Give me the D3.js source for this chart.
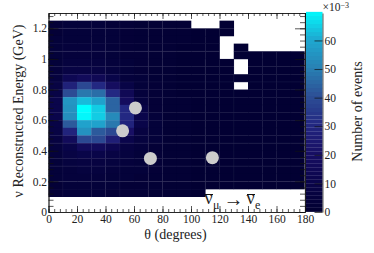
<!DOCTYPE html>
<html>
<head>
<meta charset="utf-8">
<script src="https://cdn.jsdelivr.net/npm/d3@7"></script>
<style>
  html, body { margin: 0; padding: 0; background: #fff; }
  svg { display: block; }
  text { font-family: "Liberation Serif", serif; fill: #222; }
</style>
</head>
<body>
<div id="chart"></div>
<script>
const n = null; // empty bin

// bin lower edges
const thetaBins = [0, 10, 20, 30, 40, 50, 60, 70, 80, 90, 100, 110, 120, 130, 140, 150, 160, 170];
const energyBins = [1.2, 1.15, 1.1, 1.05, 1, 0.95, 0.9, 0.85, 0.8, 0.75, 0.7, 0.65, 0.6, 0.55, 0.5, 0.45, 0.4, 0.35, 0.3, 0.25, 0.2, 0.15, 0.1];

// events per bin, x10^-3, one row per entry of energyBins
const counts = [
  [2, 3, 3, 3, 2, 2, 1, 1, 1, 1, n, n, 0.5, n, n, n, n, n],
  [2, 3, 3, 3, 3, 2, 1.5, 1, 1, 1, 0.5, 0.5, 0.5, n, n, n, n, n],
  [3, 3, 3, 3, 3, 2, 1.5, 1, 1, 1, 0.5, 0.5, n, n, n, n, n, n],
  [3, 4, 4, 4, 3, 2, 1.5, 1, 1, 0.5, 0.5, 0.5, n, 0.5, n, n, n, n],
  [3, 4, 4, 4, 3, 2, 2, 1, 1, 0.5, 0.5, 0.5, n, 0.5, 0.5, 0.5, 0.5, 0.5],
  [3, 5, 5, 5, 4, 3, 2, 1, 1, 0.5, 0.5, 0.5, 0.5, n, 0.5, 0.5, 0.5, 0.5],
  [4, 7, 7, 7, 5, 3, 2, 1, 1, 0.5, 0.5, 0.5, 0.5, n, 0.5, 0.5, 0.5, 0.5],
  [5, 13, 16, 14, 9, 4, 3, 1.5, 1, 0.5, 0.5, 0.5, 0.5, 0.5, 0.5, 0.5, 0.5, 0.5],
  [7, 27, 38, 30, 18, 8, 3, 2, 1, 0.5, 0.5, 0.5, 0.5, n, 0.5, 0.5, 0.5, 0.5],
  [8, 39, 48, 46, 30, 14, 4, 2, 1, 0.5, 0.5, 0.5, 0.5, 0.5, 0.5, 0.5, 0.5, 0.5],
  [10, 55, 62, 58, 44, 17, 5, 2, 1, 1, 0.5, 0.5, 0.5, 0.5, 0.5, 0.5, 0.5, 0.5],
  [10, 54, 70, 64, 44, 30, 8, 2, 1, 1, 0.5, 0.5, 0.5, 0.5, 0.5, 0.5, 0.5, 0.5],
  [10, 53, 69, 64, 52, 30, 10, 3, 1, 1, 0.5, 0.5, 0.5, 0.5, 0.5, 0.5, 0.5, 0.5],
  [8, 42, 58, 58, 48, 28, 9, 3, 1, 1, 0.5, 0.5, 0.5, 0.5, 0.5, 0.5, 0.5, 0.5],
  [7, 28, 54, 42, 38, 20, 6, 3, 1, 1, 0.5, 0.5, 0.5, 0.5, 0.5, 0.5, 0.5, 0.5],
  [6, 16, 38, 38, 26, 10, 5, 3, 1, 1, 0.5, 0.5, 0.5, 0.5, 0.5, 0.5, 0.5, 0.5],
  [5, 9, 16, 16, 12, 6, 4, 2, 1, 1, 0.5, 0.5, 0.5, 0.5, 0.5, 0.5, 0.5, 0.5],
  [4, 7, 9, 9, 7, 5, 3, 2, 1, 1, 0.5, 0.5, 0.5, 0.5, 0.5, 0.5, 0.5, 0.5],
  [3, 5, 6, 6, 5, 4, 3, 2, 1, 1, 0.5, 0.5, 0.5, 0.5, 0.5, 0.5, 0.5, 0.5],
  [3, 4, 5, 5, 4, 3, 3, 2, 1, 1, 0.5, 0.5, 0.5, 0.5, 0.5, 0.5, 0.5, 0.5],
  [3, 4, 4, 4, 3, 3, 2, 1.5, 1, 1, 0.5, 0.5, 0.5, 0.5, 0.5, 0.5, 0.5, 0.5],
  [2, 3, 3, 3, 3, 2, 2, 1.5, 1, 1, 0.5, 0.5, 0.5, 0.5, 0.5, 0.5, 0.5, 0.5],
  [2, 3, 3, 3, 2, 2, 2, 1, 1, 1, 0.5, n, n, n, n, n, n, n]
];

// the four grey points
const pointTheta = [61, 52, 71.5, 115];
const pointEnergy = [0.68, 0.53, 0.35, 0.355];

const thetaTicks = [0, 20, 40, 60, 80, 100, 120, 140, 160, 180];
const energyTicks = [0, 0.2, 0.4, 0.6, 0.8, 1, 1.2];
const colorTicks = [0, 10, 20, 30, 40, 50, 60];

// palette stops
const paletteValues = [0, 10, 20, 30, 40, 50, 60, 70];
const paletteColors = ["#020032", "#0a054b", "#180f64", "#232882", "#2d5096", "#2882b4", "#1eaad2", "#00ffff"];

// faint seams between cells, they show in the original too
const seamTheta = [10, 40, 50, 70, 80, 110, 130];
const seamEnergy = [1.2, 1.05, 0.95, 0.85, 0.45, 0.3, 0.2];

const width = 374;
const height = 253;
const plot = { left: 48.5, right: 305, top: 13, bottom: 212 };
const bar = { left: 306, right: 322.5 };

const svg = d3.select("#chart")
  .append("svg")
  .attr("width", width)
  .attr("height", height);

const xScale = d3.scaleLinear().domain([0, 180]).range([plot.left, plot.right]);
const yScale = d3.scaleLinear().domain([0, 1.3]).range([plot.bottom, plot.top]);
const zScale = d3.scaleLinear().domain([0, 69.6]).range([plot.bottom, plot.top]);
const colorScale = d3.scaleLinear().domain(paletteValues).range(paletteColors).clamp(true);

// Heat cells
const cells = [];
counts.forEach((row, j) => {
  row.forEach((v, i) => {
    if (v !== null) cells.push({ theta: thetaBins[i], energy: energyBins[j], value: v });
  });
});

svg.append("g")
  .selectAll("rect")
  .data(cells)
  .enter()
  .append("rect")
  .attr("x", d => xScale(d.theta))
  .attr("y", d => yScale(d.energy + 0.05))
  .attr("width", d => xScale(d.theta + 10) - xScale(d.theta) + 0.3)
  .attr("height", d => yScale(d.energy) - yScale(d.energy + 0.05) + 0.3)
  .attr("fill", d => colorScale(d.value));

// Seams, kept clear of the empty bins
const seams = svg.append("g").attr("stroke", "#fff").attr("stroke-opacity", 0.06);
seamTheta.forEach(t => {
  seams.append("line")
    .attr("x1", xScale(t)).attr("x2", xScale(t))
    .attr("y1", yScale(t >= 110 ? 1 : 1.25)).attr("y2", yScale(t >= 110 ? 0.15 : 0.1));
});
seamEnergy.forEach(e => {
  seams.append("line")
    .attr("x1", xScale(0)).attr("x2", xScale(e > 1 ? 120 : 180))
    .attr("y1", yScale(e)).attr("y2", yScale(e));
});

// Points
svg.append("g")
  .selectAll("circle")
  .data(pointTheta)
  .enter()
  .append("circle")
  .attr("cx", d => xScale(d))
  .attr("cy", (d, i) => yScale(pointEnergy[i]))
  .attr("r", 6.5)
  .attr("fill", "#cccccc");

// Palette bar
const barSteps = d3.range(0, 69.6, 1.4);
svg.append("g")
  .selectAll("rect")
  .data(barSteps)
  .enter()
  .append("rect")
  .attr("x", bar.left)
  .attr("y", d => zScale(d + 1.4))
  .attr("width", bar.right - bar.left)
  .attr("height", d => zScale(d) - zScale(d + 1.4) + (d < 35 ? -0.1 : 0.2))
  .attr("fill", d => colorScale(d));

svg.append("line")
  .attr("x1", plot.right + 0.3).attr("x2", plot.right + 0.3)
  .attr("y1", plot.top).attr("y2", plot.bottom)
  .attr("stroke", "#bbb").attr("stroke-width", 1.4);

// Axes
function styleAxis(g) {
  g.selectAll("path,line").attr("stroke", "#111").attr("stroke-width", 0.7);
  g.selectAll("text").attr("font-size", 11.5).attr("fill", "#222");
}

const thetaMinor = d3.range(0, 181, 4);
const energyMinor = d3.range(0, 1.3, 0.04);

svg.append("g")
  .attr("transform", `translate(0,${plot.bottom})`)
  .call(d3.axisBottom(xScale).tickValues(thetaMinor).tickSizeInner(-3).tickSizeOuter(0).tickFormat(""))
  .call(styleAxis);
svg.append("g")
  .attr("transform", `translate(0,${plot.bottom})`)
  .call(d3.axisBottom(xScale).tickValues(thetaTicks).tickSizeInner(-6).tickSizeOuter(0).tickPadding(2.5))
  .call(styleAxis);
svg.append("g")
  .attr("transform", `translate(0,${plot.top})`)
  .call(d3.axisTop(xScale).tickValues(thetaMinor).tickSizeInner(-3).tickSizeOuter(0).tickFormat(""))
  .call(styleAxis);
svg.append("g")
  .attr("transform", `translate(0,${plot.top})`)
  .call(d3.axisTop(xScale).tickValues(thetaTicks).tickSizeInner(-6).tickSizeOuter(0).tickFormat(""))
  .call(styleAxis);

svg.append("g")
  .attr("transform", `translate(${plot.left},0)`)
  .call(d3.axisLeft(yScale).tickValues(energyMinor).tickSizeInner(-5).tickSizeOuter(0).tickFormat(""))
  .call(styleAxis);
svg.append("g")
  .attr("transform", `translate(${plot.left},0)`)
  .call(d3.axisLeft(yScale).tickValues(energyTicks).tickSizeInner(-10).tickSizeOuter(0).tickPadding(1.5).tickFormat(d => d))
  .call(styleAxis);
svg.append("g")
  .attr("transform", `translate(${plot.right},0)`)
  .call(d3.axisRight(yScale).tickValues(energyMinor).tickSizeInner(-5).tickSizeOuter(0).tickFormat(""))
  .call(styleAxis);
svg.append("g")
  .attr("transform", `translate(${plot.right},0)`)
  .call(d3.axisRight(yScale).tickValues(energyTicks).tickSizeInner(-10).tickSizeOuter(0).tickFormat(""))
  .call(styleAxis);

svg.append("g")
  .attr("transform", `translate(${bar.right},0)`)
  .call(d3.axisRight(zScale).tickValues(colorTicks).tickSizeInner(-8).tickSizeOuter(0).tickPadding(2))
  .call(styleAxis);

// Titles
svg.append("text")
  .attr("x", 175.5)
  .attr("y", 239)
  .attr("text-anchor", "middle")
  .style("font-size", "14px")
  .text("θ (degrees)");

svg.append("text")
  .attr("transform", "rotate(-90)")
  .attr("x", -111)
  .attr("y", 23)
  .attr("text-anchor", "middle")
  .style("font-size", "14px")
  .text("ν Reconstructed Energy (GeV)");

svg.append("text")
  .attr("transform", "rotate(-90)")
  .attr("x", -111.5)
  .attr("y", 362)
  .attr("text-anchor", "middle")
  .style("font-size", "14px")
  .text("Number of events");

const expo = svg.append("text")
  .attr("x", 322.5)
  .attr("y", 11)
  .style("font-size", "11.5px")
  .text("×10");
expo.append("tspan")
  .attr("dy", -3.5)
  .style("font-size", "8px")
  .text("−3");

// Channel label
const label = svg.append("g");
label.append("text").attr("x", 204.5).attr("y", 204).style("font-size", "18px").text("ν");
label.append("text").attr("x", 213).attr("y", 209).style("font-size", "12px").text("μ");
label.append("text").attr("x", 223.5).attr("y", 205.5).style("font-size", "20px").text("→");
label.append("text").attr("x", 246.5).attr("y", 204).style("font-size", "18px").text("ν");
label.append("text").attr("x", 255).attr("y", 209).style("font-size", "12px").text("e");
label.selectAll("line")
  .data([205, 247])
  .enter()
  .append("line")
  .attr("x1", d => d)
  .attr("x2", d => d + 8)
  .attr("y1", 194.5)
  .attr("y2", 194.5)
  .attr("stroke", "#111");
</script>
</body>
</html>
